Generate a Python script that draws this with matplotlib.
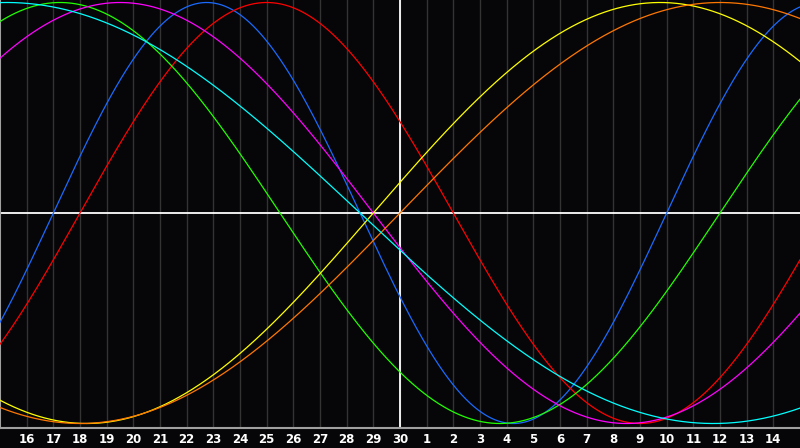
import matplotlib
matplotlib.use('Agg')
import matplotlib.pyplot as plt
import numpy as np

# biorhythm cycles: period in days and the day index where each curve rises through zero
cycle_names = ['physical', 'emotional', 'intellectual', 'intuitive', 'aesthetic', 'awareness', 'spiritual']
cycle_periods = [23, 28, 33, 38, 43, 48, 53]
rising_zero = [2.0, 3.0, 27.0, 33.0, 14.0, 15.0, 40.0]
cycle_colors = ['#1a6aff', '#ff0000', '#22ff00', '#ff00ff', '#ffff00', '#ff7700', '#00ffff']

# day labels along the bottom (index 1..29), the white centre line is the current day
day_labels = [str(d) for d in range(16, 31)] + [str(d) for d in range(1, 15)]
n_days = 30
today_index = 15

fig = plt.figure(figsize=(8, 4.48), dpi=100, facecolor='#060608')
ax = fig.add_axes([0, 20 / 448, 1, 428 / 448])
ax.set_facecolor('#060608')

# grid of days
for i in range(1, n_days):
    ax.axvline(i, color='#333333', linewidth=1.0, zorder=1)

ax.axhline(0, color='white', linewidth=1.3, zorder=2)
ax.axvline(today_index, color='white', linewidth=1.3, zorder=2)

x = np.linspace(0, n_days, 1200)
for period, start, color in zip(cycle_periods, rising_zero, cycle_colors):
    y = np.sin(2 * np.pi * (x - start) / period)
    ax.plot(x, y, color=color, linewidth=0.9, zorder=3)

ax.set_xlim(0, n_days)
ax.set_ylim(-215 / 210.5, 213 / 210.5)

ax.spines['top'].set_visible(False)
ax.spines['right'].set_visible(False)
ax.spines['left'].set_color('#a0a0a0')
ax.spines['bottom'].set_color('#a0a0a0')
ax.spines['left'].set_linewidth(1.5)
ax.spines['bottom'].set_linewidth(1.5)

ax.set_yticks([])
ax.set_xticks(range(1, n_days))
ax.set_xticklabels(day_labels, color='white', fontsize=8.5, fontweight='bold',
                   family='DejaVu Sans')
ax.tick_params(axis='x', length=0, pad=3.5)

fig.savefig('out.png', dpi=100, facecolor=fig.get_facecolor())
